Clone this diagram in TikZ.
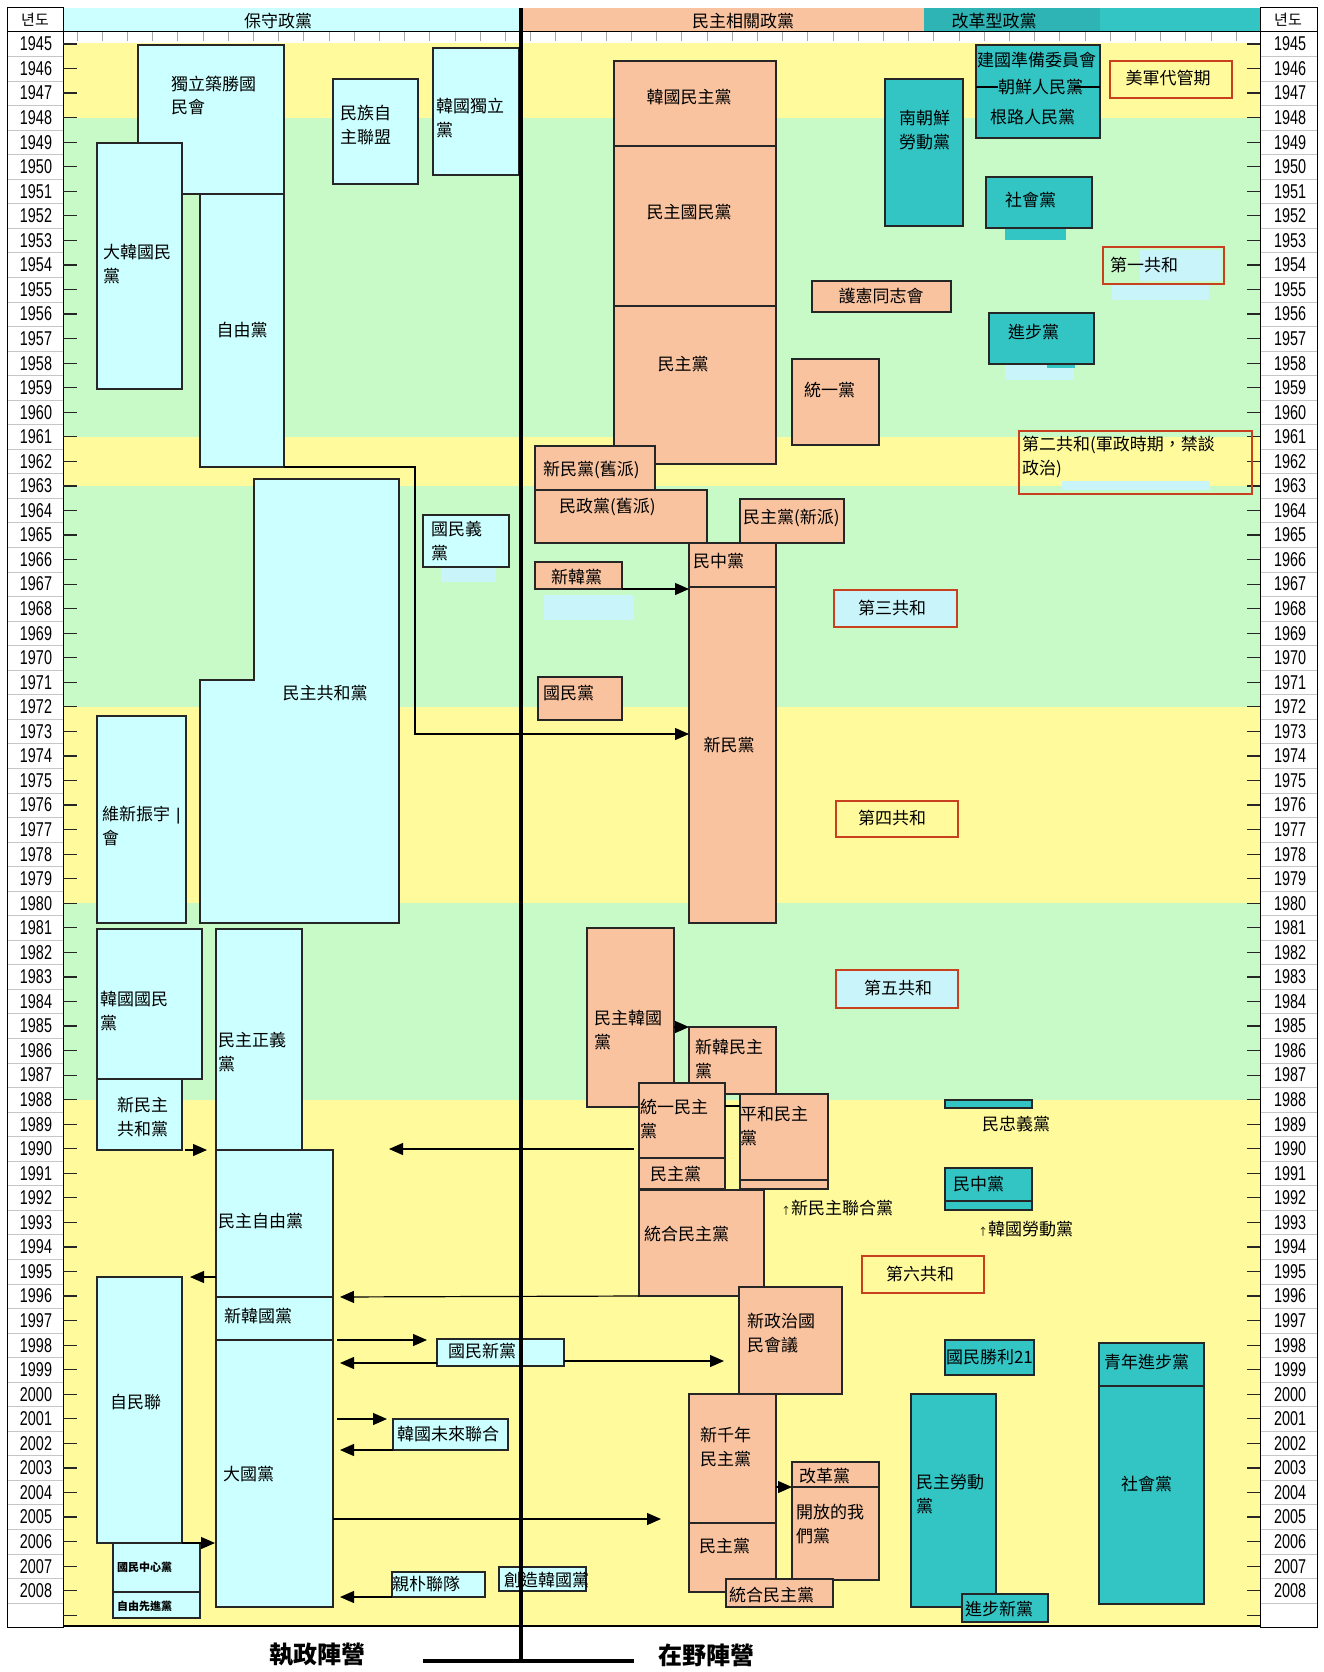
\documentclass[tikz,border=0pt]{standalone}
\usepackage{fontspec}
\usepackage{graphicx}
\usetikzlibrary{arrows.meta}
\newfontfamily\cjk{Noto Sans CJK TC}
\newfontfamily\krf{Noto Sans CJK KR}
\newfontfamily\numf{Liberation Sans}
\definecolor{cbox}{HTML}{CCFFFF}
\definecolor{sbox}{HTML}{F9C3A0}
\definecolor{tbox}{HTML}{33C4C4}
\definecolor{tboxd}{HTML}{2EB4B4}
\definecolor{bgy}{HTML}{FFFB9C}
\definecolor{bgg}{HTML}{C8FAC8}
\definecolor{redb}{HTML}{C8401E}
\definecolor{lcyan}{HTML}{C8F4FA}
\newcommand\PB[6]{\node[#6, minimum width={(#4-#2)*1pt}, minimum height={(#5-#3)*1pt}, anchor=north west] (#1) at (#2,#3) {};}
\newcommand\arrowmark{{\fontsize{10}{10}\selectfont ↑}}
\begin{document}
\begin{tikzpicture}[x=1pt,y=-1pt,
 pb/.style={draw=black!85, line width=1.2pt, inner sep=0pt, outer sep=0pt},
 con/.style={pb, fill=cbox},
 dem/.style={pb, fill=sbox},
 rfm/.style={pb, fill=tbox},
 per/.style={draw=redb, line width=1.3pt, inner sep=0pt, outer sep=0pt},
 lbl/.style={inner sep=0pt, outer sep=0pt, font=\cjk\fontsize{17}{23.5}\selectfont, align=left, anchor=west},
 lblc/.style={lbl, anchor=center, align=center},
 lbls/.style={lbl, font=\cjk\bfseries\fontsize{11}{11}\selectfont},
 hdr/.style={inner sep=0pt, font=\cjk\fontsize{17}{17}\selectfont},
 yrl/.style={inner sep=0pt, font=\numf\fontsize{20}{20}\selectfont},
 arr/.style={line width=1.2pt, -{Triangle[length=14pt,width=12pt]}},
 tick/.style={line width=1.2pt, black!85},
 sep/.style={gray!45, line width=0.6pt},
 big/.style={inner sep=0pt, font=\cjk\bfseries\fontsize{24}{24}\selectfont}]
\useasboundingbox (0,0) rectangle (1323,1672);
\fill[white] (0,0) rectangle (1323,1672);
% period bands
\fill[bgy] (63,43) rectangle (1260,117.6);
\fill[bgg] (63,117.6) rectangle (1260,436.8);
\fill[bgy] (63,436.8) rectangle (1260,485.9);
\fill[bgg] (63,485.9) rectangle (1260,706.9);
\fill[bgy] (63,706.9) rectangle (1260,903.3);
\fill[bgg] (63,903.3) rectangle (1260,1099.7);
\fill[bgy] (63,1099.7) rectangle (1260,1626);
% ruler strip
\fill[white] (63,32) rectangle (1260,43);
\foreach \x in {77,102.2,...,1247} \draw[gray!70, line width=0.8pt] (\x,32) -- (\x,41);
% header strip
\fill[cbox] (63,8) rectangle (521,32);
\fill[sbox] (521,8) rectangle (924,32);
\fill[tboxd] (924,8) rectangle (1100,32);
\fill[tbox] (1100,8) rectangle (1260,32);
\draw[line width=1pt] (63,32) -- (1260,32);
\node[hdr] (h1) at (278,21) {保守政黨};
\node[hdr] (h2) at (743,21) {民主相關政黨};
\node[hdr] (h3) at (994,21) {改革型政黨};
% year columns
\fill[white] (7,8) rectangle (63,1627);
\fill[white] (1260,8) rectangle (1317,1627);
\foreach \i in {0,...,63}{
  \pgfmathsetmacro\yy{44+\i*24.55+12.3}
  \draw[sep] (7,\yy) -- (63,\yy);
  \draw[sep] (1260,\yy) -- (1317,\yy);
}
\draw[line width=1pt] (7,8) rectangle (63,1627);
\draw[line width=1pt] (1260,8) rectangle (1317,1627);
\draw[line width=1pt] (7,32) -- (63,32);
\draw[line width=1pt] (1260,32) -- (1317,32);
\node[inner sep=0pt, font=\krf\fontsize{15}{15}\selectfont] (yhl) at (35,20) {년도};
\node[inner sep=0pt, font=\krf\fontsize{15}{15}\selectfont] (yhr) at (1288,20) {년도};
\foreach \i in {0,...,63}{
  \pgfmathsetmacro\yy{44+\i*24.55}
  \pgfmathtruncatemacro\yr{1945+\i}
  \node[yrl] (yl\yr) at (36,\yy) {\scalebox{0.72}[1]{\yr}};
  \node[yrl] (yr\yr) at (1290,\yy) {\scalebox{0.72}[1]{\yr}};
}
\foreach \i in {0,...,64}{
  \pgfmathsetmacro\yy{44+\i*24.55}
  \draw[tick] (63,\yy) -- (77,\yy);
  \draw[tick] (1247,\yy) -- (1260,\yy);
}
\draw[line width=2pt] (63,1626) -- (1260,1626);
% light patches
\fill[lcyan] (544,595) rectangle (634,620);
\fill[lcyan] (441,567) rectangle (496,582);
\fill[lcyan] (1140,250) rectangle (1221,281);
\fill[lcyan] (1112,285) rectangle (1209,300);
\fill[lcyan] (1062,481) rectangle (1210,490);
\fill[lcyan] (1005,364) rectangle (1074,380);
\fill[tbox] (1047,364) rectangle (1075,368);
% conservative boxes
\PB{dlcs}{138}{45}{284}{194}{con}
\PB{dhgm}{97}{143}{182}{389}{con}
\PB{zyd}{200}{194}{284}{467}{con}
\PB{mzzz}{333}{79}{418}{184}{con}
\PB{hgdl}{433}{48}{519}{175}{con}
\draw[con] (254,479) -- (399,479) -- (399,923) -- (200,923) -- (200,680) -- (254,680) -- cycle;
\PB{gmy}{423}{515}{509}{567}{con}
\PB{wxzy}{97}{716}{186}{923}{con}
\PB{hggm}{97}{929}{202}{1079}{con}
\PB{xmzgh}{97}{1079}{182}{1150}{con}
\PB{mzzy}{216}{929}{302}{1150}{con}
\PB{mzzyd}{216}{1150}{333}{1297}{con}
\PB{xhgd}{216}{1297}{333}{1340}{con}
\PB{dgd}{216}{1340}{333}{1607}{con}
\PB{zml}{97}{1277}{182}{1543}{con}
\PB{gmzx}{113}{1543}{200}{1592}{con}
\PB{zyxj}{113}{1592}{200}{1618}{con}
\PB{gmxd}{437}{1339}{564}{1366}{con}
\PB{hgwl}{393}{1419}{508}{1450}{con}
\PB{qplb}{392}{1572}{485}{1597}{con}
\PB{czhg}{499}{1567}{586}{1591}{con}
% democratic boxes
\PB{hgmz}{614}{61}{776}{146}{dem}
\PB{mzgm}{614}{146}{776}{306}{dem}
\PB{mzd1}{614}{306}{776}{464}{dem}
\PB{hxtz}{812}{281}{951}{312}{dem}
\PB{tyd}{792}{359}{879}{445}{dem}
\PB{xmdj}{535}{446}{655}{490}{dem}
\PB{mzdj}{535}{490}{707}{543}{dem}
\PB{mzdx}{740}{499}{844}{543}{dem}
\PB{mzhd}{689}{543}{776}{587}{dem}
\PB{xmd}{689}{587}{776}{923}{dem}
\PB{xhd}{535}{562}{622}{589}{dem}
\PB{gmd}{538}{677}{622}{720}{dem}
\PB{mzhgd}{587}{928}{674}{1107}{dem}
\PB{xhmz}{689}{1027}{776}{1094}{dem}
\PB{tymz}{639}{1083}{725}{1158}{dem}
\PB{phmz}{740}{1094}{828}{1180}{dem}
\PB{xmzlh}{740}{1180}{828}{1189}{dem}
\PB{mzd2}{639}{1158}{725}{1189}{dem}
\PB{thmz1}{639}{1190}{764}{1296}{dem}
\PB{xzzg}{739}{1287}{842}{1394}{dem}
\PB{xqn}{689}{1394}{776}{1523}{dem}
\PB{mzd3}{689}{1523}{776}{1592}{dem}
\PB{ggd}{792}{1462}{879}{1487}{dem}
\PB{kfwm}{792}{1487}{879}{1580}{dem}
\PB{thmz2}{726}{1579}{833}{1607}{dem}
% reform boxes
\PB{jgzb}{976}{45}{1100}{138}{rfm}
\draw[line width=1.2pt] (976,87) -- (998,87);
\draw[line width=1.2pt] (1075,87) -- (1100,87);
\PB{nczl}{885}{79}{963}{226}{rfm}
\fill[tbox] (1005,228) rectangle (1066,240);
\PB{shd1}{986}{177}{1092}{228}{rfm}
\PB{jbd}{989}{313}{1094}{364}{rfm}
\PB{mzyd}{945}{1100}{1032}{1108}{rfm}
\PB{mzhd2}{945}{1168}{1032}{1201}{rfm}
\PB{hgld}{945}{1201}{1032}{1210}{rfm}
\PB{gmsl}{945}{1340}{1034}{1375}{rfm}
\PB{mzld}{911}{1394}{996}{1607}{rfm}
\PB{jbxd}{962}{1594}{1048}{1622}{rfm}
\PB{qnjb}{1099}{1343}{1204}{1386}{rfm}
\PB{shd2}{1099}{1386}{1204}{1604}{rfm}
% period boxes
\PB{p0}{1110}{61}{1232}{98}{per, fill=bgy}
\PB{p1}{1103}{247}{1224}{284}{per}
\PB{p2}{1019}{431}{1252}{494}{per}
\PB{p3}{834}{590}{957}{627}{per, fill=lcyan}
\PB{p4}{836}{801}{958}{837}{per, fill=bgy}
\PB{p5}{836}{970}{958}{1008}{per, fill=lcyan}
\PB{p6}{862}{1256}{984}{1293}{per, fill=bgy}
% connectors
\coordinate (c1) at (415,467);
\coordinate (c2) at (415,734);
\draw[arr] (zyd.south east) -- (c1) -- (c2) -- (xmd.west |- c2);
\draw[arr] (xhd.south east) -- (xmd.west |- xhd.south east);
\draw[arr] (mzhgd.east |- xhmz.north) -- (xhmz.north west);
\draw[arr, shorten <=3pt, shorten >=9pt] (xmzgh.south east) -- (mzzyd.north west);
\coordinate (f1) at (389,1149);
\draw[arr, shorten <=5pt] (tymz.west |- f1) -- (f1);
\draw[arr, shorten >=8pt] (mzzyd.west |- zml.north) -- (zml.north east);
\draw[arr, shorten >=7pt] (thmz1.south west) -- (xhgd.north east);
\draw[arr, shorten <=4pt, shorten >=10pt] (xhgd.south east) -- (gmxd.west |- xhgd.south east);
\draw[arr, shorten >=7pt] (gmxd.west |- 0,1363) -- (dgd.east |- 0,1363);
\draw[arr, shorten >=15pt] (gmxd.east |- 0,1361) -- (xzzg.west |- 0,1361);
\draw[arr, shorten <=4pt, shorten >=6pt] (dgd.east |- hgwl.north) -- (hgwl.north west);
\draw[arr, shorten >=7pt] (hgwl.south west) -- (dgd.east |- hgwl.south west);
\coordinate (f2) at (661,1519);
\draw[arr] (dgd.east |- f2) -- (f2);
\draw[arr, shorten >=1pt] (zml.south east) -- (dgd.west |- zml.south east);
\draw[arr, shorten >=7pt] (qplb.south west) -- (dgd.east |- qplb.south west);
\draw[arr] (xqn.east |- kfwm.north) -- (kfwm.north west);
\draw[line width=1.2pt] (tymz.east |- 0,1106) -- (phmz.west |- 0,1106);
% labels conservative
\node[lbl] (l-dlcs) at (171,95.5) {獨立築勝國\\民會};
\node[lbl] (l-mzzz) at (340,125) {民族自\\主聯盟};
\node[lbl] (l-hgdl) at (436,118) {韓國獨立\\黨};
\node[lbl] (l-dhgm) at (103,264) {大韓國民\\黨};
\node[lblc] (l-zyd) at (242,330) {自由黨};
\node[lblc] (l-mzgh) at (325,693) {民主共和黨};
\node[lbl] (l-gmy) at (431,541) {國民義\\黨};
\node[lbl] (l-wxzy) at (102,826) {維新振宇\hspace{6pt}{\numf|}\\會};
\node[lbl] (l-hggm) at (100,1011) {韓國國民\\黨};
\node[lbl] (l-xmzgh) at (117,1117) {新民主\\共和黨};
\node[lbl] (l-mzzy) at (218,1052) {民主正義\\黨};
\node[lbl] (l-mzzyd) at (218,1221) {民主自由黨};
\node[lbl] (l-xhgd) at (224,1316) {新韓國黨};
\node[lbl] (l-dgd) at (223,1474) {大國黨};
\node[lbl] (l-zml) at (110,1402) {自民聯};
\node[lbls] (l-gmzx) at (117,1567) {國民中心黨};
\node[lbls] (l-zyxj) at (117,1606) {自由先進黨};
\node[lbl] (l-gmxd) at (448,1351) {國民新黨};
\node[lbl] (l-hgwl) at (397,1434) {韓國未來聯合};
\node[lbl] (l-qplb) at (392,1584) {親朴聯隊};
\node[lbl] (l-czhg) at (504,1580) {創造韓國黨};
% labels democratic
\node[lblc] (l-hgmz) at (689,97) {韓國民主黨};
\node[lblc] (l-mzgm) at (689,212) {民主國民黨};
\node[lblc] (l-mzd1) at (683,364) {民主黨};
\node[lblc] (l-hxtz) at (881,296) {護憲同志會};
\node[lbl] (l-tyd) at (804,390) {統一黨};
\node[lbl] (l-xmdj) at (543,470) {新民黨(舊派)};
\node[lbl] (l-mzdj) at (559,507) {民政黨(舊派)};
\node[lbl] (l-mzdx) at (743,518) {民主黨(新派)};
\node[lbl] (l-mzhd) at (693,561) {民中黨};
\node[lblc] (l-xmd) at (729,745) {新民黨};
\node[lbl] (l-xhd) at (551,577) {新韓黨};
\node[lbl] (l-gmd) at (543,693) {國民黨};
\node[lbl] (l-mzhgd) at (594,1030) {民主韓國\\黨};
\node[lbl] (l-xhmz) at (695,1059) {新韓民主\\黨};
\node[lbl] (l-tymz) at (640,1119) {統一民主\\黨};
\node[lbl] (l-phmz) at (740,1126) {平和民主\\黨};
\node[lbl] (l-mzd2) at (650,1174) {民主黨};
\node[lbl] (l-xmzlh) at (781,1208) {{\arrowmark}新民主聯合黨};
\node[lbl] (l-thmz1) at (644,1234) {統合民主黨};
\node[lbl] (l-xzzg) at (747,1333) {新政治國\\民會議};
\node[lbl] (l-xqn) at (700,1447) {新千年\\民主黨};
\node[lbl] (l-mzd3) at (699,1546) {民主黨};
\node[lbl] (l-ggd) at (799,1476) {改革黨};
\node[lbl] (l-kfwm) at (796,1524) {開放的我\\們黨};
\node[lbl] (l-thmz2) at (729,1595) {統合民主黨};
% labels reform
\node[lbl] (l-jgzb) at (977,60) {建國準備委員會};
\node[lbl] (l-cxrm) at (998,87) {朝鮮人民黨};
\node[lbl] (l-qlrm) at (990,117) {根路人民黨};
\node[lbl] (l-nczl) at (899,130) {南朝鮮\\勞動黨};
\node[lbl] (l-shd1) at (1005,200) {社會黨};
\node[lbl] (l-jbd) at (1008,332) {進步黨};
\node[lbl] (l-mzyd) at (982,1124) {民忠義黨};
\node[lbl] (l-mzhd2) at (953,1184) {民中黨};
\node[lbl] (l-hgld) at (978,1229) {{\arrowmark}韓國勞動黨};
\node[lbl] (l-gmsl) at (946,1357) {國民勝利21};
\node[lbl] (l-mzld) at (916,1494) {民主勞動\\黨};
\node[lbl] (l-jbxd) at (965,1609) {進步新黨};
\node[lbl] (l-qnjb) at (1104,1362) {青年進步黨};
\node[lbl] (l-shd2) at (1121,1484) {社會黨};
% period labels
\node[lblc] (l-p0) at (1168,78) {美軍代管期};
\node[lbl] (l-p1) at (1110,265) {第一共和};
\node[lbl] (l-p2) at (1022,457) {第二共和(軍政時期，禁談\\政治)};
\node[lbl] (l-p3) at (858,608) {第三共和};
\node[lbl] (l-p4) at (858,818) {第四共和};
\node[lbl] (l-p5) at (864,988) {第五共和};
\node[lbl] (l-p6) at (886,1274) {第六共和};
% centre divider
\draw[line width=3.5pt] (521,8) -- (521,1661);
\draw[line width=3.5pt] (423,1661) -- (634,1661);
\node[big] (ruling) at (317,1655) {執政陣營};
\node[big] (oppos) at (706,1655) {在野陣營};
\end{tikzpicture}
\end{document}
